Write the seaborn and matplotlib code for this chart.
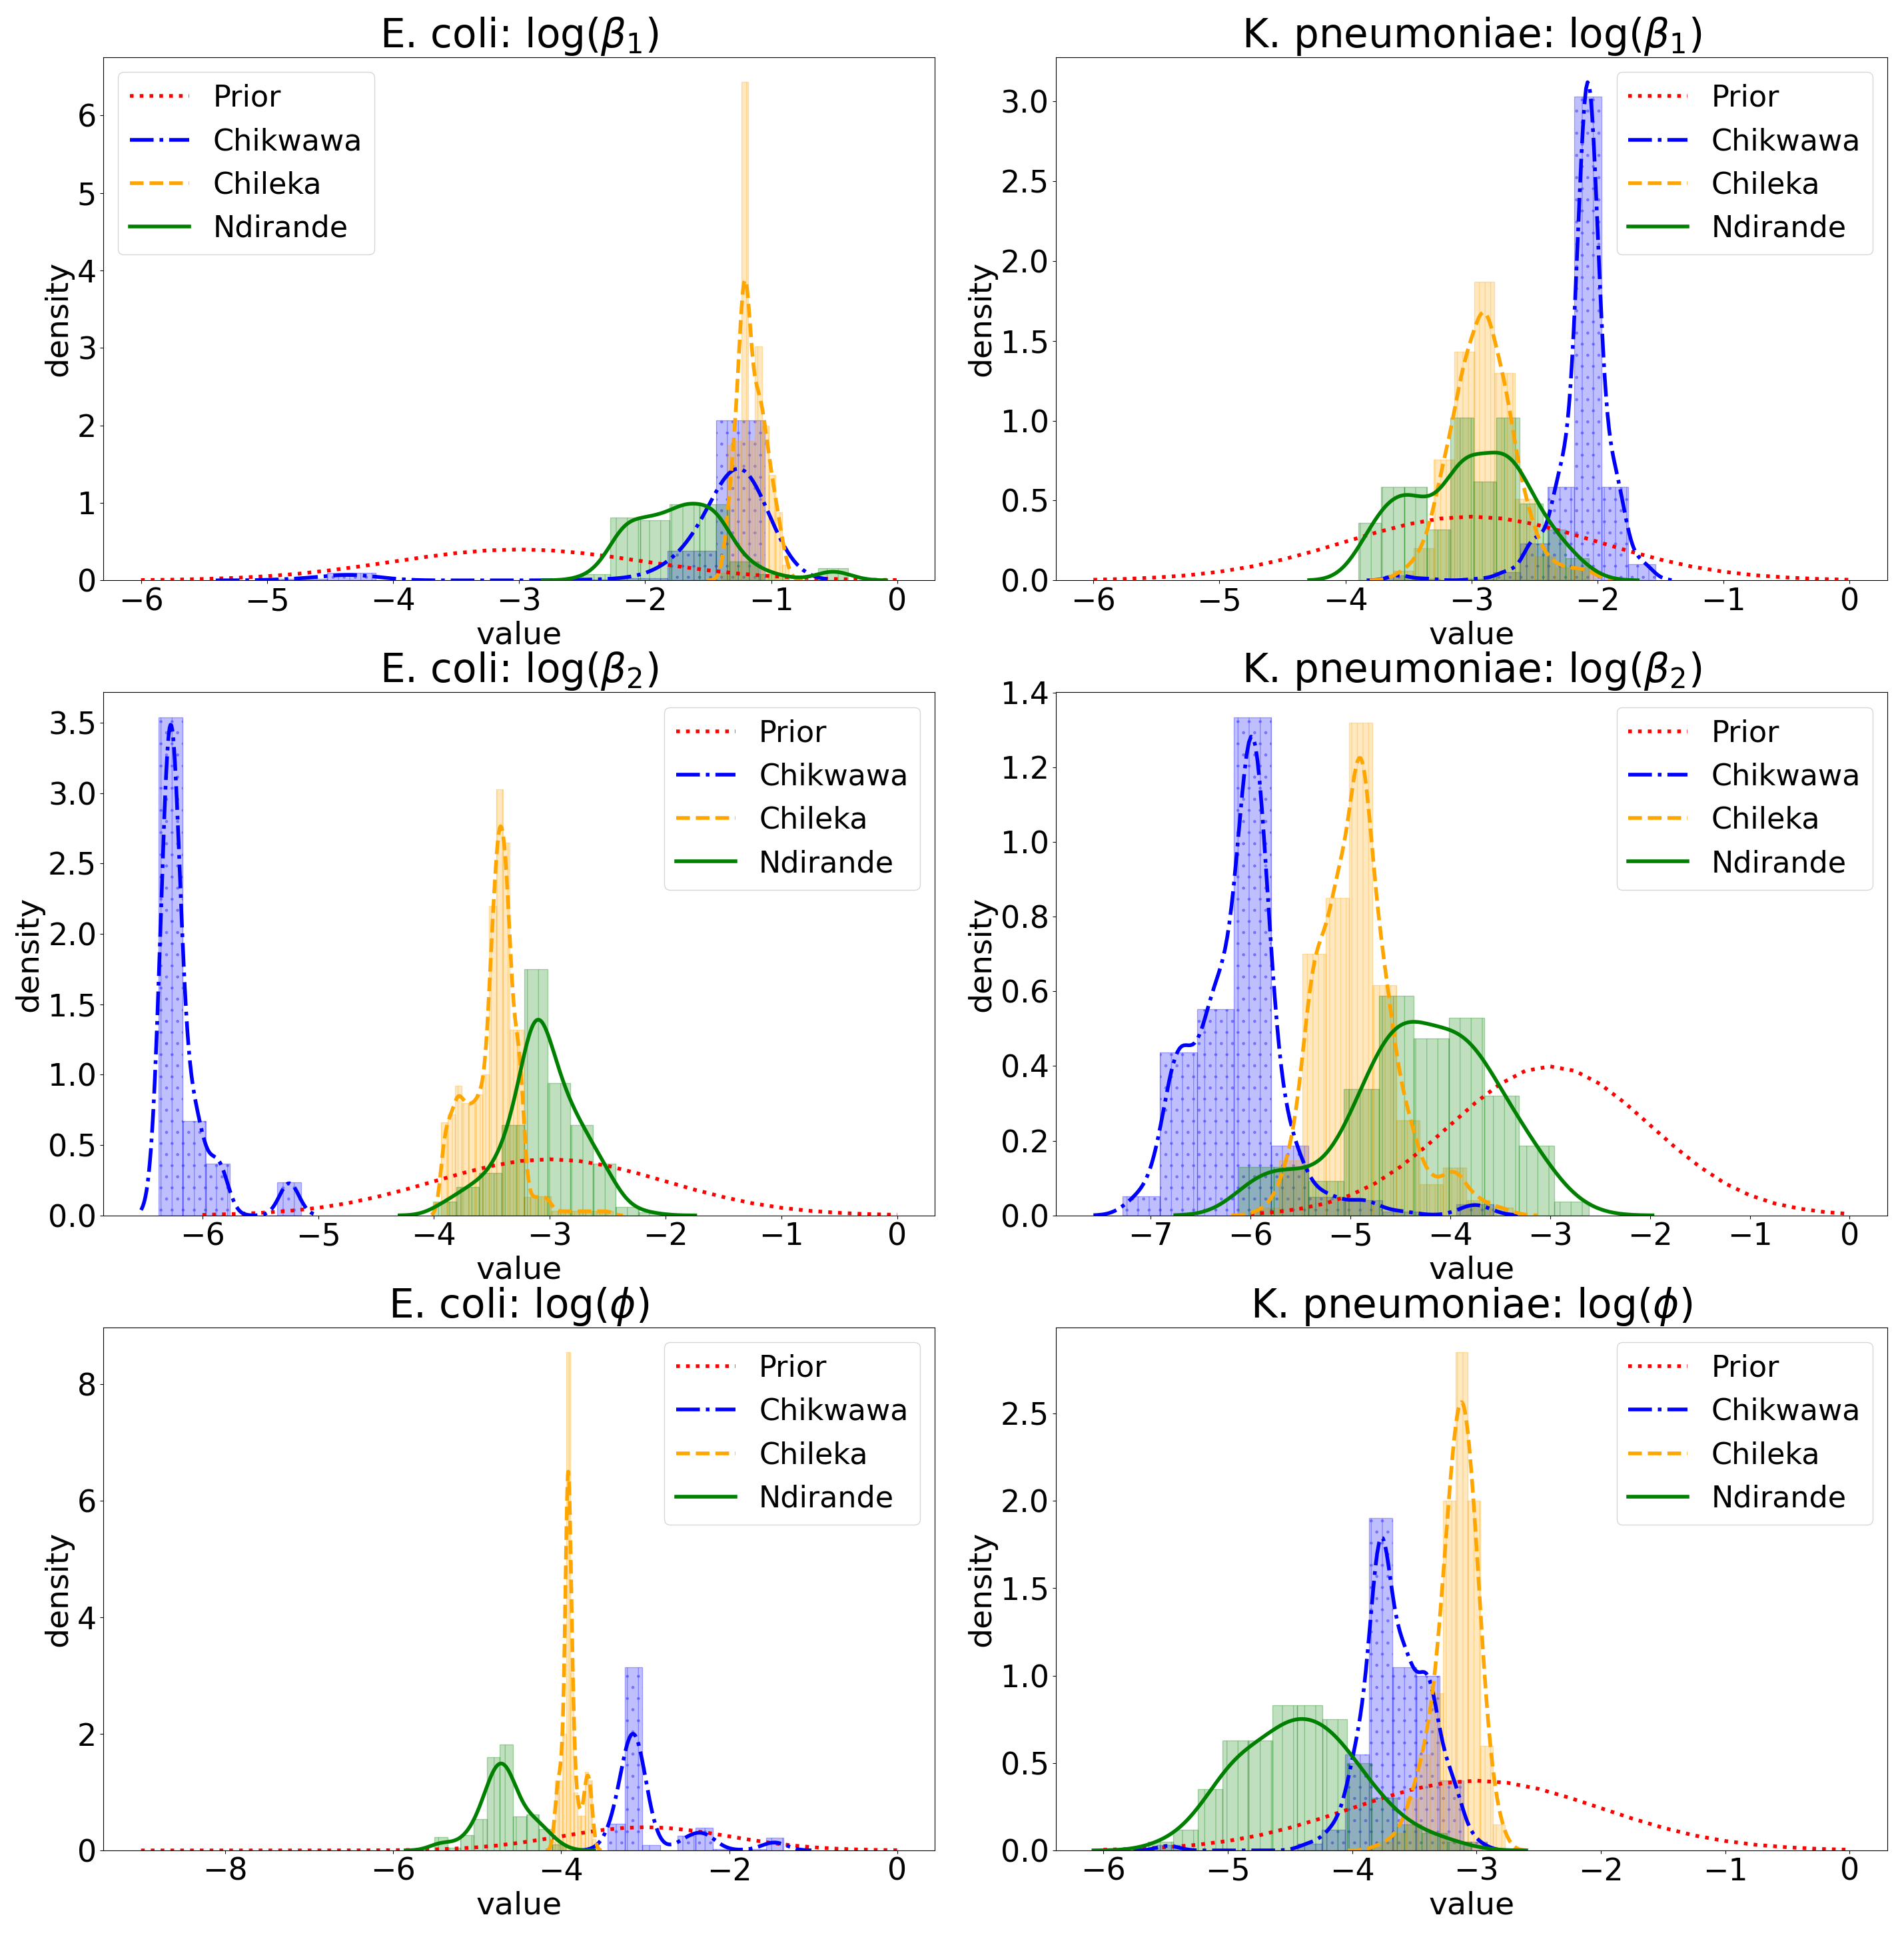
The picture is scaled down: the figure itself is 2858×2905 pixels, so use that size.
import numpy as np
import matplotlib
matplotlib.use("Agg")
import matplotlib.pyplot as plt
from matplotlib.colors import to_rgba
import seaborn as sns

# prior N(-3, 1)
prior_x = [-6.0, -5.75, -5.5, -5.25, -5.0, -4.75, -4.5, -4.25, -4.0, -3.75, -3.5, -3.25, -3.0,
           -2.75, -2.5, -2.25, -2.0, -1.75, -1.5, -1.25, -1.0, -0.75, -0.5, -0.25, 0.0]
prior_y = [0.004, 0.009, 0.018, 0.032, 0.054, 0.086, 0.130, 0.183, 0.242, 0.301, 0.352, 0.387, 0.399,
           0.387, 0.352, 0.301, 0.242, 0.183, 0.130, 0.086, 0.054, 0.032, 0.018, 0.009, 0.004]
prior_phi_x = [-9.0, -8.75, -8.5, -8.25, -8.0, -7.75, -7.5, -7.25, -7.0, -6.75, -6.5, -6.25] + prior_x
prior_phi_y = [0.0, 0.0, 0.0, 0.0, 0.0, 0.0, 0.0, 0.0, 0.0, 0.0, 0.001, 0.002] + prior_y

sites = ["Chikwawa", "Chileka", "Ndirande"]

# histogram bins per site: (first edge, bin width) and bar heights (density)
ec_b1_chik_bins = (-4.91, 0.386)
ec_b1_chik = [0.02, 0.10, 0.0, 0.0, 0.0, 0.0, 0.01, 0.03, 0.38, 2.07]
ec_b1_chil_bins = (-1.398, 0.054)
ec_b1_chil = [0.1, 1.75, 1.8, 6.43, 1.8, 3.02, 2.0, 1.36, 0.88, 0.2]
ec_b1_ndir_bins = (-2.511, 0.2356)
ec_b1_ndir = [0.08, 0.81, 0.78, 0.98, 0.98, 0.24, 0.08, 0.0, 0.16]

kp_b1_chik_bins = (-3.684, 0.2143)
kp_b1_chik = [0.03, 0.01, 0.0, 0.01, 0.05, 0.23, 0.585, 3.03, 0.585, 0.10]
kp_b1_chil_bins = (-3.618, 0.16)
kp_b1_chil = [0.06, 0.2, 0.757, 1.43, 1.87, 1.30, 0.51, 0.15, 0.08, 0.08]
kp_b1_ndir_bins = (-3.90, 0.183)
kp_b1_ndir = [0.36, 0.585, 0.585, 0.32, 1.02, 0.62, 1.02, 0.48, 0.32, 0.14]

ec_b2_chik_bins = (-6.378, 0.205)
ec_b2_chik = [3.54, 0.67, 0.37, 0.0, 0.0, 0.234]
ec_b2_chil_bins = (-3.94, 0.0595)
ec_b2_chil = [0.66, 0.72, 0.92, 0.8, 0.8, 0.86, 1.0, 2.2, 3.03, 2.65, 1.32, 1.32, 0.13, 0.13,
              0.135, 0.135, 0.03, 0.03, 0.03, 0.03, 0.03, 0.03, 0.03, 0.03, 0.03]
ec_b2_ndir_bins = (-4.006, 0.197)
ec_b2_ndir = [0.097, 0.2, 0.3, 0.64, 1.75, 0.94, 0.64, 0.366, 0.06, 0.02]

kp_b2_chik_bins = (-7.279, 0.3714)
kp_b2_chik = [0.052, 0.437, 0.553, 1.334, 0.186, 0.05, 0.04, 0.01, 0.0, 0.03]
kp_b2_chil_bins = (-5.949, 0.2345)
kp_b2_chil = [0.02, 0.147, 0.70, 0.85, 1.32, 0.616, 0.254, 0.084, 0.127, 0.041, 0.02]
kp_b2_ndir_bins = (-6.119, 0.351)
kp_b2_ndir = [0.13, 0.13, 0.093, 0.338, 0.588, 0.474, 0.53, 0.32, 0.187, 0.036]

ec_phi_chik_bins = (-3.451, 0.21)
ec_phi_chik = [0.46, 3.15, 0.09, 0.0, 0.25, 0.39, 0.02, 0.0, 0.02, 0.22]
ec_phi_chil_bins = (-4.115, 0.044)
ec_phi_chil = [0.15, 1.2, 1.2, 2.0, 8.55, 3.05, 1.0, 0.6, 0.6, 1.35, 1.2, 0.2]
ec_phi_ndir_bins = (-5.509, 0.156)
ec_phi_ndir = [0.23, 0.05, 0.26, 0.54, 1.6, 1.82, 0.58, 0.62, 0.37, 0.1]

kp_phi_chik_bins = (-5.575, 0.19)
kp_phi_chik = [0.03, 0.0, 0.0, 0.0, 0.0, 0.0, 0.04, 0.12, 0.55, 1.9, 1.05, 1.0, 0.4, 0.05]
kp_phi_chil_bins = (-3.87, 0.1)
kp_phi_chil = [0.02, 0.05, 0.1, 0.3, 0.55, 0.9, 2.0, 2.85, 2.0, 0.6, 0.15]
kp_phi_ndir_bins = (-5.64, 0.2)
kp_phi_ndir = [0.05, 0.12, 0.35, 0.63, 0.63, 0.83, 0.83, 0.75, 0.5, 0.3, 0.15, 0.1, 0.05]

titles = [r"E. coli: log($\beta_1$)", r"K. pneumoniae: log($\beta_1$)",
          r"E. coli: log($\beta_2$)", r"K. pneumoniae: log($\beta_2$)",
          r"E. coli: log($\phi$)", r"K. pneumoniae: log($\phi$)"]

# kde bandwidths (value units) per panel, per site
kde_bw = [[0.23, 0.045, 0.14], [0.085, 0.09, 0.16], [0.085, 0.038, 0.13],
          [0.16, 0.12, 0.27], [0.145, 0.03, 0.14], [0.09, 0.072, 0.18]]

# style
colors = ["blue", "orange", "green"]
line_styles = ["-.", "--", "-"]
hatches = ["|.", "||", "|"]
LW = 4


def fixed_bw(h):
    # gaussian_kde wants a factor of the (weighted) sd, give it one that lands on h
    def factor(kde):
        sd = np.sqrt(np.cov(kde.dataset[0], aweights=kde.weights))
        return h / sd
    return factor


def draw_panel(ax, title, px, py, series, bws, loc):
    sns.lineplot(x=px, y=py, ax=ax, color="red", linestyle=":", linewidth=LW, label="Prior")
    for (bins, heights), bw, site, c, ls, hatch in zip(series, bws, sites, colors, line_styles, hatches):
        lo, w = bins
        h = np.asarray(heights, dtype=float)
        edges = lo + w * np.arange(len(h) + 1)
        centers = edges[:-1] + w / 2
        sns.histplot(x=centers, weights=h, bins=edges.tolist(), stat="count", ax=ax,
                     facecolor=to_rgba(c, 0.25), edgecolor=to_rgba(c, 0.3),
                     hatch=hatch, linewidth=1)
        sns.kdeplot(x=centers, weights=h, bw_method=fixed_bw(bw), cut=3, ax=ax,
                    color=c, linestyle=ls, linewidth=LW, label=site)
    ax.set_title(title, fontsize=43)
    ax.set_xlabel("value", fontsize=34)
    ax.set_ylabel("density", fontsize=34)
    ax.tick_params(labelsize=33)
    ax.legend(loc=loc, fontsize=32)


panels = [
    (prior_x, prior_y, [(ec_b1_chik_bins, ec_b1_chik), (ec_b1_chil_bins, ec_b1_chil), (ec_b1_ndir_bins, ec_b1_ndir)], "upper left"),
    (prior_x, prior_y, [(kp_b1_chik_bins, kp_b1_chik), (kp_b1_chil_bins, kp_b1_chil), (kp_b1_ndir_bins, kp_b1_ndir)], "upper right"),
    (prior_x, prior_y, [(ec_b2_chik_bins, ec_b2_chik), (ec_b2_chil_bins, ec_b2_chil), (ec_b2_ndir_bins, ec_b2_ndir)], "upper right"),
    (prior_x, prior_y, [(kp_b2_chik_bins, kp_b2_chik), (kp_b2_chil_bins, kp_b2_chil), (kp_b2_ndir_bins, kp_b2_ndir)], "upper right"),
    (prior_phi_x, prior_phi_y, [(ec_phi_chik_bins, ec_phi_chik), (ec_phi_chil_bins, ec_phi_chil), (ec_phi_ndir_bins, ec_phi_ndir)], "upper right"),
    (prior_x, prior_y, [(kp_phi_chik_bins, kp_phi_chik), (kp_phi_chil_bins, kp_phi_chil), (kp_phi_ndir_bins, kp_phi_ndir)], "upper right"),
]

fig, axes = plt.subplots(3, 2, figsize=(28.58, 29.05), dpi=100)
fig.subplots_adjust(left=0.0542, right=0.9913, bottom=0.0437, top=0.9704, wspace=0.145, hspace=0.214)

for ax, title, bws, (px, py, series, loc) in zip(axes.flat, titles, kde_bw, panels):
    draw_panel(ax, title, px, py, series, bws, loc)

fig.savefig("out.png", dpi=100)
